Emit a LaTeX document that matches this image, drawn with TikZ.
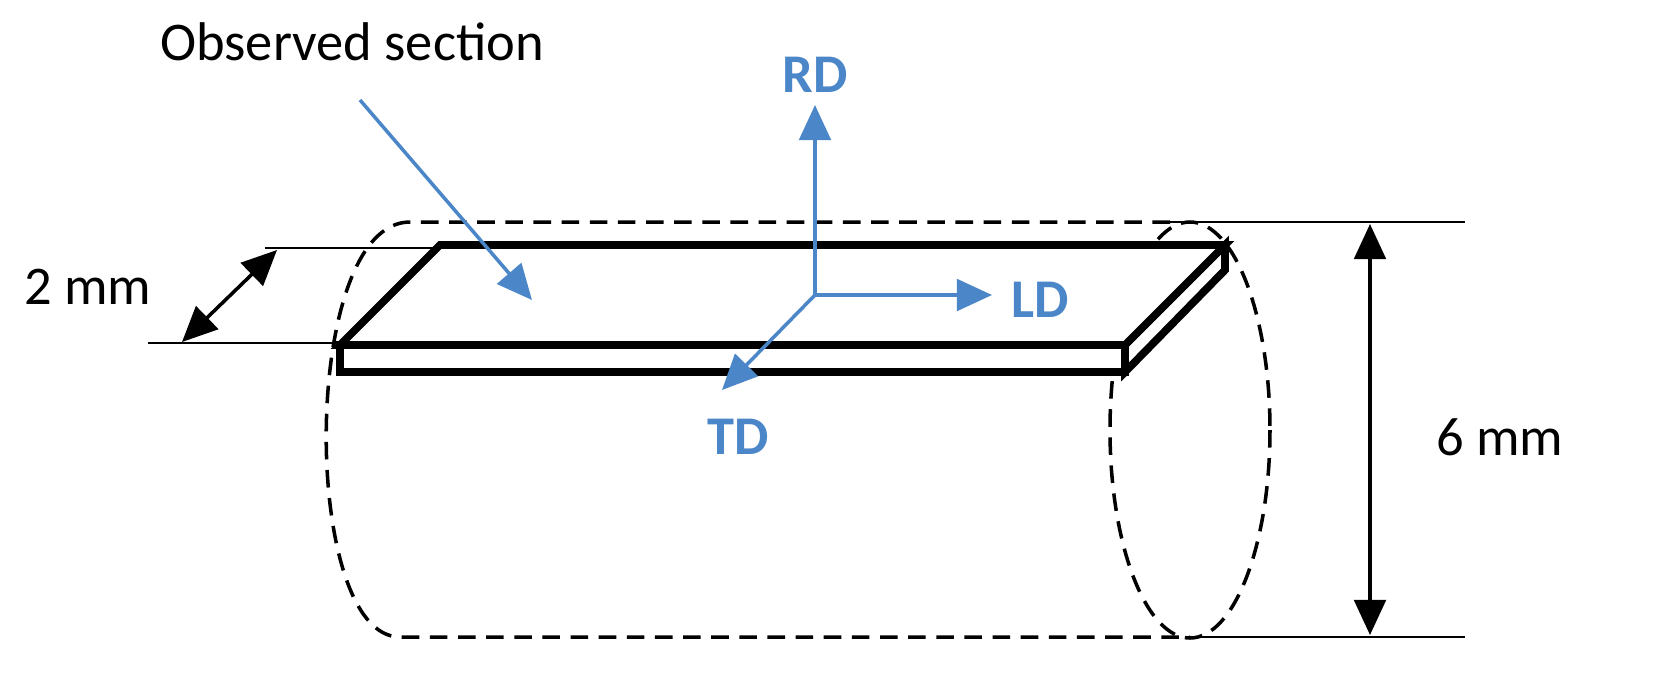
\documentclass[tikz,border=0pt]{standalone}
\usepackage{fontspec}
\setmainfont{Carlito}
\usetikzlibrary{arrows.meta}
\definecolor{ax}{RGB}{75,135,200}
\begin{document}
\begin{tikzpicture}[x=0.01cm,y=-0.01cm,
  thin line/.style={line width=0.6pt},
  plate/.style={line width=2.2pt,line join=miter},
  dim/.style={line width=1pt,{Triangle[length=10pt,width=9pt]}-{Triangle[length=10pt,width=9pt]}},
  axis/.style={ax,line width=1pt,-{Triangle[length=10pt,width=9pt]}},
  lbl/.style={font=\fontsize{15.5}{18}\selectfont},
  axl/.style={ax,font=\fontsize{15.5}{18}\selectfont\bfseries}]
\useasboundingbox (0,0) rectangle (1659,699);
% cylinder
\draw[dash pattern=on 5pt off 3pt,line width=1pt] (1170,222) -- (410,222) .. controls (300,222) and (300,637) .. (400,637) -- (1190,637);
\draw[dash pattern=on 5pt off 3pt,line width=1pt] (1190,430) ellipse [x radius=80, y radius=208];
% plate
\draw[plate,fill=white] (340,345) rectangle (1125,372);
\draw[plate,fill=white] (1125,345) -- (1225,245) -- (1225,270) -- (1125,372) -- cycle;
\draw[plate,fill=white] (440,245) -- (1225,245) -- (1125,345) -- (340,345) -- cycle;
% dimensions
\coordinate (a1) at (265,248); \coordinate (a2) at (440,248);
\coordinate (b1) at (148,343); \coordinate (b2) at (340,343);
\draw[thin line] (a1) -- (a2); \draw[thin line] (b1) -- (b2);
\coordinate (d1) at (277,250); \coordinate (d2) at (182,342);
\draw[dim] (d1) -- (d2);
\node[lbl] (t2) at (88,287) {2 mm};
\coordinate (c1) at (1170,222); \coordinate (c2) at (1465,222);
\coordinate (e1) at (1190,637); \coordinate (e2) at (1465,637);
\draw[thin line] (c1) -- (c2); \draw[thin line] (e1) -- (e2);
\coordinate (v1) at (1370,224); \coordinate (v2) at (1370,635);
\draw[dim] (v1) -- (v2);
\node[lbl] (t6) at (1500,437) {6 mm};
% axes
\coordinate (o) at (815,295);
\coordinate (rd) at (815,105); \coordinate (ld) at (992,295); \coordinate (td) at (722,390);
\draw[axis] (o) -- (rd); \draw[axis] (o) -- (ld); \draw[axis] (o) -- (td);
\node[axl] (RD) at (815,75) {RD};
\node[axl] (LD) at (1040,300) {LD};
\node[axl] (TD) at (738,437) {TD};
% observed section
\node[lbl] (os) at (352,42) {Observed section};
\coordinate (s1) at (360,100); \coordinate (s2) at (532,300);
\draw[axis] (s1) -- (s2);
\end{tikzpicture}
\end{document}
